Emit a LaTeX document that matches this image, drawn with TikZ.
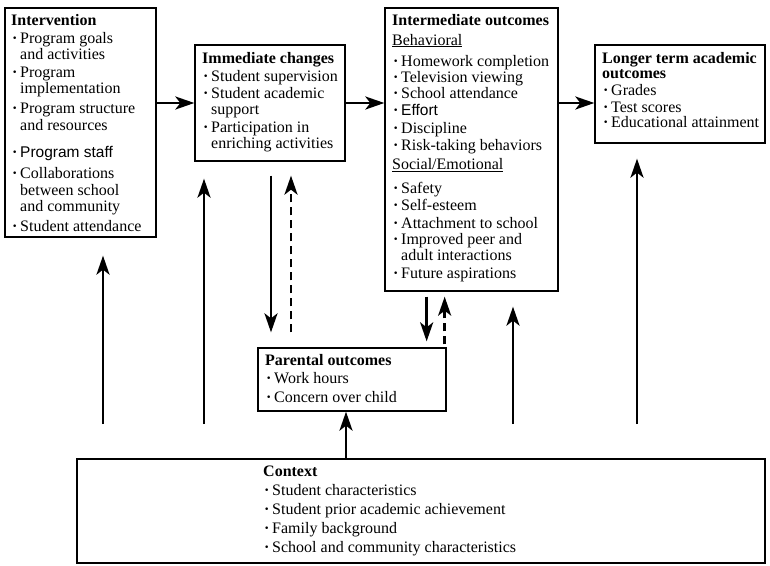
\documentclass[tikz,border=0pt]{standalone}
\usepackage{fontspec}
\setmainfont{Liberation Serif}
\newfontfamily\sansf{Liberation Sans}
\usetikzlibrary{arrows.meta,fit}
\newcommand{\itm}{\makebox[9pt][l]{\hspace{1pt}{\bfseries\textperiodcentered}}}
\newcommand{\cnt}{\hspace*{9pt}}
\newcommand{\sanstxt}[1]{{\sansf\fontsize{15.5}{16.5}\selectfont #1}}
\tikzset{
  box/.style={draw=black, line width=1.3pt, inner sep=0pt, rectangle},
  txt/.style={anchor=base west, inner sep=0pt, font=\fontsize{16}{16.5}\selectfont},
  arr/.style={line width=2.6pt, -{Stealth[length=19pt,width=13pt,inset=5pt]}},
  dsh/.style={dash pattern=on 8pt off 5pt}
}
\begin{document}
\begin{tikzpicture}[x=1pt,y=-1pt]
\useasboundingbox (0,0) rectangle (770,565);
% boxes
\node[box, fit={(5,8) (156,237)}] (interv) {};
\node[box, fit={(195,45) (345,161)}] (immed) {};
\node[box, fit={(385,8) (558,291)}] (inter) {};
\node[box, fit={(595,45) (765,143)}] (longer) {};
\node[box, fit={(258,348) (446,411)}] (parent) {};
\node[box, fit={(77,459) (765,563)}] (context) {};
% texts
\node[txt] (tinterv) at (11,25) {\parbox[t]{200pt}{\textbf{Intervention}\\[1.5pt]
\itm Program goals\\[-0.5pt]
\cnt and activities\\[1.5pt]
\itm Program\\[-0.5pt]
\cnt implementation\\[3.5pt]
\itm Program structure\\[0.5pt]
\cnt and resources\\[10.5pt]
\itm\sanstxt{Program staff}\\[4.5pt]
\itm Collaborations\\[0.5pt]
\cnt between school\\[-0.5pt]
\cnt and community\\[3.5pt]
\itm Student attendance}};
\node[txt] (timmed) at (202,63) {\parbox[t]{200pt}{\textbf{Immediate changes}\\[1.5pt]
\itm Student supervision\\[0.5pt]
\itm Student academic\\[-0.5pt]
\cnt support\\[1.5pt]
\itm Participation in\\[-0.5pt]
\cnt enriching activities}};
\node[txt] (tinter) at (392,25) {\parbox[t]{200pt}{\textbf{Intermediate outcomes}\\[3.5pt]
\underline{Behavioral}\\[4.5pt]
\itm Homework completion\\[-0.5pt]
\itm Television viewing\\[0pt]
\itm School attendance\\[0.5pt]
\itm\sanstxt{Effort}\\[1pt]
\itm Discipline\\[1pt]
\itm Risk-taking behaviors\\[2.5pt]
\underline{Social/Emotional}\\[7pt]
\itm Safety\\[1pt]
\itm Self-esteem\\[1pt]
\itm Attachment to school\\[0pt]
\itm Improved peer and\\[-1pt]
\cnt adult interactions\\[2pt]
\itm Future aspirations}};
\node[txt] (tlonger) at (602,63) {\parbox[t]{200pt}{\textbf{Longer term academic}\\[-1.5pt]
\textbf{outcomes}\\[0.5pt]
\itm Grades\\[0.5pt]
\itm Test scores\\[-1.5pt]
\itm Educational attainment}};
\node[txt] (tparent) at (265,365) {\parbox[t]{200pt}{\textbf{Parental outcomes}\\[1.5pt]
\itm Work hours\\[2.5pt]
\itm Concern over child}};
\node[txt] (tcontext) at (263,476) {\parbox[t]{300pt}{\textbf{Context}\\[2.5pt]
\itm Student characteristics\\[2.5pt]
\itm Student prior academic achievement\\[2.5pt]
\itm Family background\\[2.5pt]
\itm School and community characteristics}};
% horizontal arrows
\draw[arr] (interv.east |- immed.west) -- (immed.west);
\draw[arr] (immed.east) -- (immed.east -| inter.west);
\draw[arr] (inter.east |- immed.east) -- (longer.west |- immed.east);
% up arrows from context level
\coordinate (u1) at (103,424);
\coordinate (u2) at (204,424);
\coordinate (u3) at (513,424);
\coordinate (u4) at (637,424);
\draw[arr, shorten >=18pt] (u1) -- (u1 |- interv.south);
\draw[arr, shorten >=17pt] (u2) -- (u2 |- immed.south);
\draw[arr, shorten >=15pt] (u3) -- (u3 |- inter.south);
\draw[arr, shorten >=15pt] (u4) -- (u4 |- longer.south);
% context to parental
\draw[arr] ([xshift=-6pt]parent.south |- context.north) -- ([xshift=-6pt]parent.south);
% immediate <-> parental
\draw[arr, shorten <=14pt, shorten >=15pt] ([xshift=1pt]immed.south) -- ([xshift=1pt]immed.south |- parent.north);
\draw[arr, dsh, shorten <=15pt, shorten >=14pt] ([xshift=21pt]immed.south |- parent.north) -- ([xshift=21pt]immed.south);
% intermediate <-> parental
\draw[arr, shorten <=5pt, shorten >=6pt] ([xshift=-20pt]parent.north east |- inter.south) -- ([xshift=-20pt]parent.north east);
\draw[arr, dsh, shorten <=3pt, shorten >=5pt] ([xshift=-2pt]parent.north east) -- ([xshift=-2pt]parent.north east |- inter.south);
\end{tikzpicture}
\end{document}
